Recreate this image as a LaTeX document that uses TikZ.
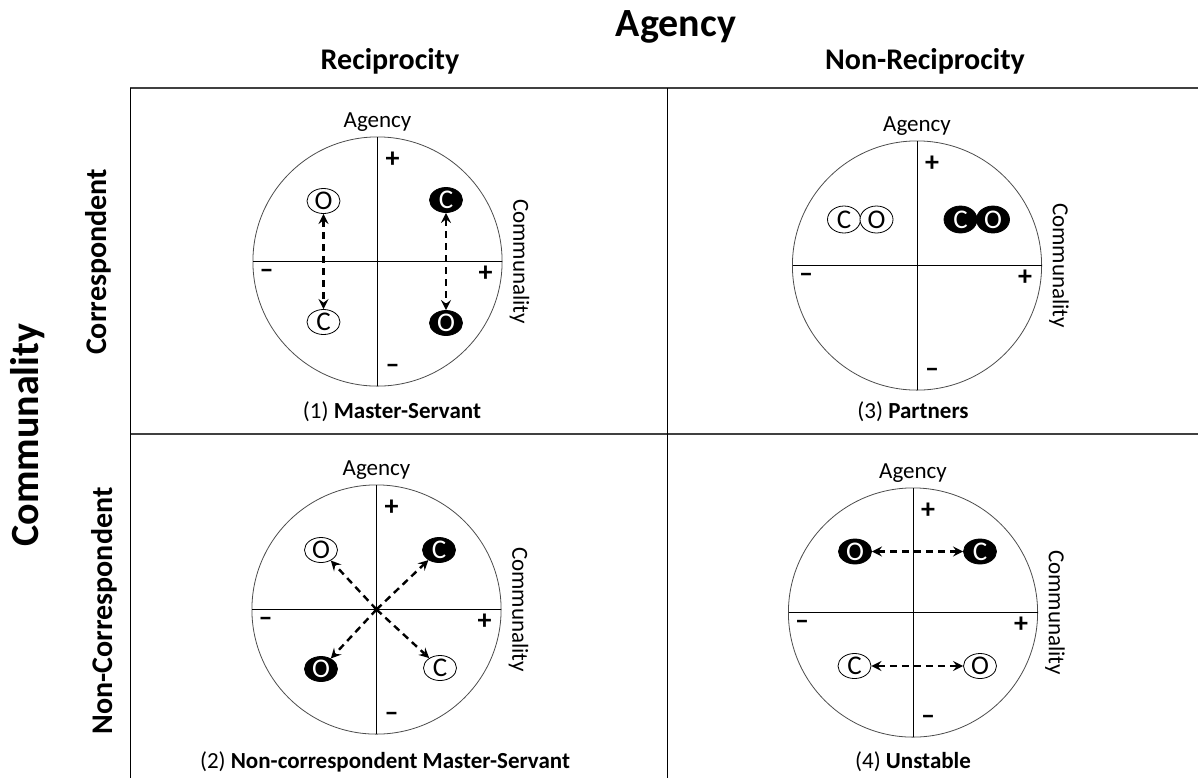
\documentclass[tikz,border=0pt]{standalone}
\usepackage{fontspec}
\setmainfont{Carlito}
\usepackage{tikz}
\usetikzlibrary{calc, shapes.geometric}

\tikzset{
  pers/.style={ellipse, draw, inner sep=0pt, minimum width=16.5pt, minimum height=11pt, font=\fontsize{13.5}{13.5}\selectfont},
  light/.style={pers, fill=white, text=black},
  dark/.style={pers, fill=black, text=white},
  link/.style={dash pattern=on 3.5pt off 2.5pt, line width=1.2pt},
  lbl/.style={font=\fontsize{11.5}{12}\selectfont},
  sgn/.style={font=\fontsize{14}{14}\selectfont\bfseries},
  hdr/.style={font=\fontsize{15}{15}\selectfont\bfseries},
  big/.style={font=\fontsize{20}{20}\selectfont\bfseries},
}

\begin{document}
\begin{tikzpicture}[x=0.5pt, y=-0.5pt, >=stealth]
    \useasboundingbox (0,0) rectangle (1198,778);

    % table
    \draw[line width=0.7pt, black!75] (130,88) -- (1198,88);
    \draw[line width=0.7pt, black!75] (130,434) -- (1198,434);
    \draw[line width=0.5pt] (130,88) -- (130,778);
    \draw[line width=0.5pt] (667,88) -- (667,778);

    \node[big] (agency) at (676,27) {Agency};
    \node[hdr] (recip) at (390,61) {Reciprocity};
    \node[hdr] (nonrecip) at (925,61) {Non-Reciprocity};
    \node[big, rotate=90] (commun) at (28,435) {Communality};
    \node[hdr, rotate=90] (corr) at (98,262) {Correspondent};
    \node[hdr, rotate=90] (noncorr) at (104,611) {Non-Correspondent};

    % the four circles
    \foreach \k/\cx/\cy in {1/377.5/261.5, 2/917/265.5, 3/376.5/609.5, 4/913/612.5} {
        \coordinate (m\k) at (\cx,\cy);
        \draw[black!70] (m\k) circle[radius=62.3pt];
        \draw ($(m\k)+(-124.5,0)$) -- ($(m\k)+(124.5,0)$);
        \draw ($(m\k)+(0,-124.5)$) -- ($(m\k)+(0,124.5)$);
        \node[lbl] (ag\k) at ($(m\k)+(0,-139)$) {Agency};
        \node[lbl, rotate=-90] (cm\k) at ($(m\k)+(142,0)$) {Communality};
        \node[sgn] (pa\k) at ($(m\k)+(15,-102)$) {+};
        \node[sgn] (na\k) at ($(m\k)+(15,107)$) {\textendash};
        \node[sgn] (nc\k) at ($(m\k)+(-111,12)$) {\textendash};
        \node[sgn] (pc\k) at ($(m\k)+(108,12)$) {+};
    }

    % (1)
    \node[light] (o1) at (323.5,201) {O};
    \node[light] (c1) at (323.5,322) {C};
    \node[dark] (c1b) at (446,200) {C};
    \node[dark] (o1b) at (446,323) {O};
    \draw[link, <->] (o1) -- (c1);
    \draw[link, <->] (c1b) -- (o1b);
    \node[lbl] (cap1) at (392,412) {(1) \textbf{Master-Servant}};

    % (3)
    \node[light, minimum height=13.5pt] (c2) at (844,219.5) {C};
    \node[light, minimum height=13.5pt] (o2) at (876.5,219.5) {O};
    \node[dark, minimum height=13.5pt] (c2b) at (960.5,219.5) {C};
    \node[dark, minimum height=13.5pt] (o2b) at (993,219.5) {O};
    \node[lbl] (cap2) at (913,412) {(3) \textbf{Partners}};

    % (2)
    \node[light] (o3) at (321,550) {O};
    \node[dark] (c3b) at (439,550) {C};
    \node[dark] (o3b) at (321,669) {O};
    \node[light] (c3) at (440,668) {C};
    \draw[link, ->] (m3) -- (o3);
    \draw[link, ->] (m3) -- (c3b);
    \draw[link, ->] (m3) -- (o3b);
    \draw[link, ->] (m3) -- (c3);
    \node[lbl] (cap3) at (385,762) {(2) \textbf{Non-correspondent Master-Servant}};

    % (4)
    \node[dark] (o4b) at (855,551.5) {O};
    \node[dark] (c4b) at (980,551.5) {C};
    \node[light] (c4) at (854.5,666) {C};
    \node[light] (o4) at (980,666) {O};
    \draw[link, <->] (o4b) -- (c4b);
    \draw[link, <->] (c4) -- (o4);
    \node[lbl] (cap4) at (913,762) {(4) \textbf{Unstable}};
\end{tikzpicture}
\end{document}
